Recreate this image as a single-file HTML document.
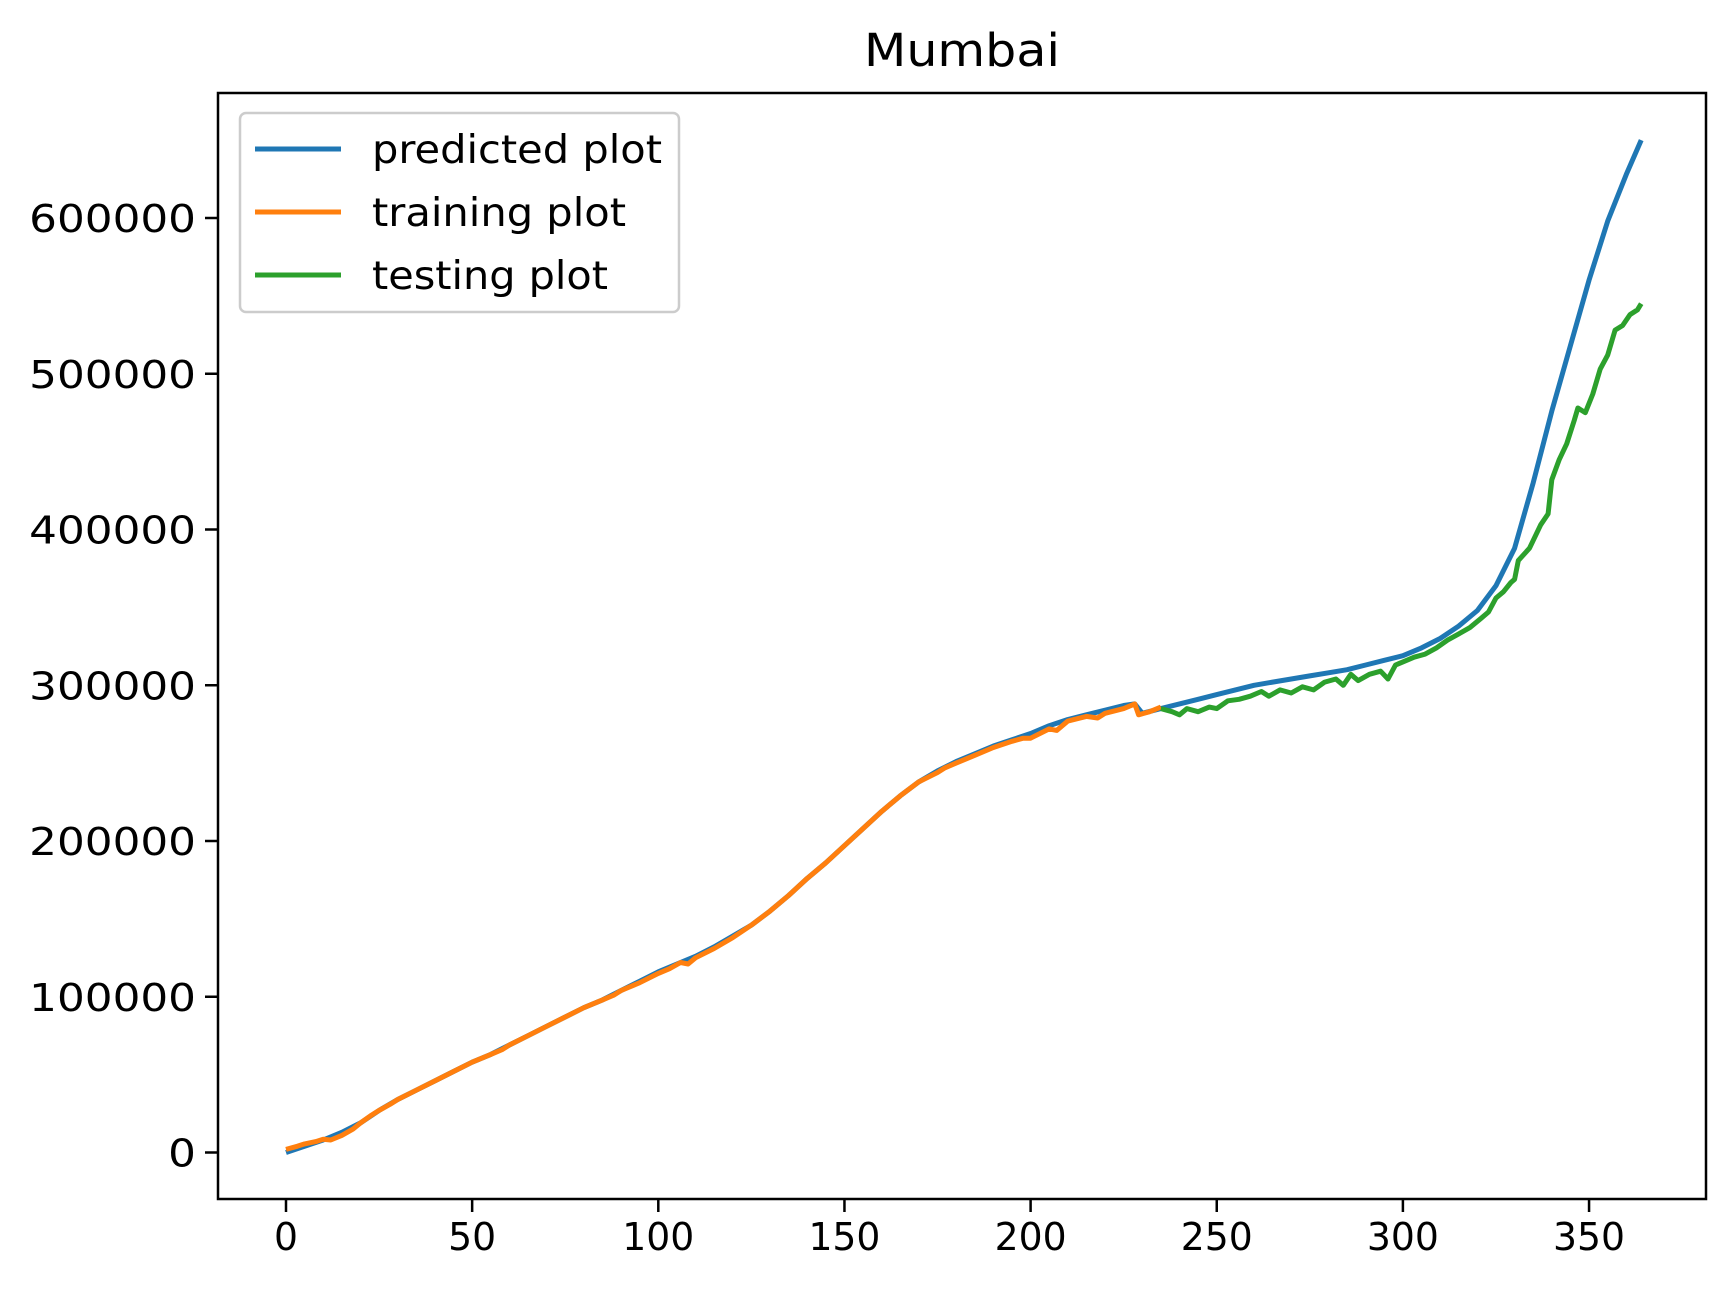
<!DOCTYPE html>
<html><head><meta charset="utf-8">
<style>html,body{margin:0;padding:0;background:#fff}svg{display:block}text{font-family:"DejaVu Sans","Liberation Sans",sans-serif;fill:#000}</style>
</head><body>
<svg id="chart" width="1736" height="1302" viewBox="0 0 1736 1302" xmlns="http://www.w3.org/2000/svg">
<rect width="1736" height="1302" fill="#fff"/>
<text x="962" y="66" font-size="45" text-anchor="middle" textLength="196" lengthAdjust="spacingAndGlyphs">Mumbai</text>
<g id="plot"></g>
</svg>
<script>
const xTicks = [0, 50, 100, 150, 200, 250, 300, 350];
const yTicks = [0, 100000, 200000, 300000, 400000, 500000, 600000];
const predX = [0,5,10,15,20,25,30,35,40,45,50,55,60,65,70,75,80,85,90,95,100,105,110,115,120,125,130,135,140,145,150,155,160,165,170,175,180,185,190,195,200,205,210,215,220,225,228,230,235,240,245,250,255,260,265,270,275,280,285,290,295,300,305,310,315,320,325,330,335,340,345,350,355,360,364];
const predY = [0,4000,8000,13000,19000,27000,34000,40000,46000,52000,58000,63000,69000,75000,81000,87000,93000,98000,104000,110000,116000,121000,126000,132000,139000,146000,155000,165000,176000,186000,197000,208000,219000,229000,238000,245000,251000,256000,261000,265000,269000,274000,278000,281000,284000,287000,288000,282000,285000,288000,291000,294000,297000,300000,302000,304000,306000,308000,310000,313000,316000,319000,324000,330000,338000,348000,364000,388000,430000,476000,518000,560000,598000,628000,650000];
const trainX = [0,3,5,8,10,12,15,18,20,23,25,28,30,35,40,45,50,55,58,60,65,70,75,80,85,88,90,95,100,103,106,108,110,115,120,125,130,135,140,145,150,155,160,165,170,175,177,180,185,190,195,198,200,205,207,210,215,218,220,225,228,229,232,235];
const trainY = [2000,4000,5500,7000,8500,8000,11000,15000,19000,24000,27000,31000,34000,40000,46000,52000,58000,63000,66000,69000,75000,81000,87000,93000,98000,101000,104000,109000,115000,118000,122000,121000,125000,131000,138000,146000,155000,165000,176000,186000,197000,208000,219000,229000,238000,244000,247000,250000,255000,260000,264000,266000,266000,272000,271000,277000,280000,279000,282000,285000,288000,281000,283000,286000];
const testX = [235,238,240,242,245,248,250,253,256,259,262,264,267,270,273,276,279,282,284,286,288,291,294,296,298,300,303,306,309,312,315,318,321,323,325,327,329,330,331,334,337,339,340,342,344,346,347,349,351,353,355,357,359,361,363,364];
const testY = [285000,283000,281000,285000,283000,286000,285000,290000,291000,293000,296000,293000,297000,295000,299000,297000,302000,304000,300000,307000,303000,307000,309000,304000,313000,315000,318000,320000,324000,329000,333000,337000,343000,347000,356000,360000,366000,368000,380000,388000,403000,410000,432000,445000,455000,470000,478000,475000,487000,503000,512000,528000,531000,538000,541000,545000];

const NS = "http://www.w3.org/2000/svg";
const L = 218, R = 1706, T = 93, B = 1199;
const sx = v => 286 + v * 3.723;
const sy = v => 1152.5 - v * 155.75 / 100000;
const plot = document.getElementById('plot');
function mk(tag, attrs) { const e = document.createElementNS(NS, tag); for (const k in attrs) e.setAttribute(k, attrs[k]); plot.appendChild(e); return e; }
function line(xs, ys, color, name) {
  const d = xs.map((x, i) => (i ? 'L' : 'M') + sx(x).toFixed(1) + ' ' + sy(ys[i]).toFixed(1)).join(' ');
  const p = mk('path', {d: d, fill: 'none', stroke: color, 'stroke-width': 5, 'stroke-linejoin': 'round'});
  
  
}
line(predX, predY, '#1f77b4', 'predicted-line');
line(trainX, trainY, '#ff7f0e', 'training-line');
line(testX, testY, '#2ca02c', 'testing-line');

const frame = mk('rect', {x: L, y: T, width: R - L, height: B - T, fill: 'none', stroke: '#000', 'stroke-width': 2.5});



xTicks.forEach(v => {
  const t = mk('line', {x1: sx(v), x2: sx(v), y1: B, y2: B + 13, stroke: '#000', 'stroke-width': 2.5});
  
  
  const s = String(v);
  const lb = mk('text', {x: sx(v), y: B + 51, 'font-size': 38, 'text-anchor': 'middle', textLength: s.length * 24, lengthAdjust: 'spacingAndGlyphs'});
  lb.textContent = s;
  
  
});
yTicks.forEach(v => {
  const t = mk('line', {x1: L - 13, x2: L, y1: sy(v), y2: sy(v), stroke: '#000', 'stroke-width': 2.5});
  
  
  const s = String(v);
  const lb = mk('text', {x: L - 22, y: sy(v) + 14, 'font-size': 38, 'text-anchor': 'end', textLength: s.length * 27.8, lengthAdjust: 'spacingAndGlyphs'});
  lb.textContent = s;
  
  
});

const legendNames = ['predicted plot', 'training plot', 'testing plot'];
const legendColors = ['#1f77b4', '#ff7f0e', '#2ca02c'];
const legendWidths = [290, 254, 236];
const box = mk('rect', {x: 240, y: 113, width: 439, height: 199, rx: 6, fill: '#fff', 'fill-opacity': 0.8, stroke: '#ccc', 'stroke-width': 2.5});


legendNames.forEach((n, i) => {
  const y = 149 + i * 63;
  const ln = mk('line', {x1: 255, x2: 341, y1: y, y2: y, stroke: legendColors[i], 'stroke-width': 5});
  
  
  const tx = mk('text', {x: 372, y: y + 14, 'font-size': 39, textLength: legendWidths[i], lengthAdjust: 'spacingAndGlyphs'});
  tx.textContent = n;
  
  
});
</script>
</body></html>
